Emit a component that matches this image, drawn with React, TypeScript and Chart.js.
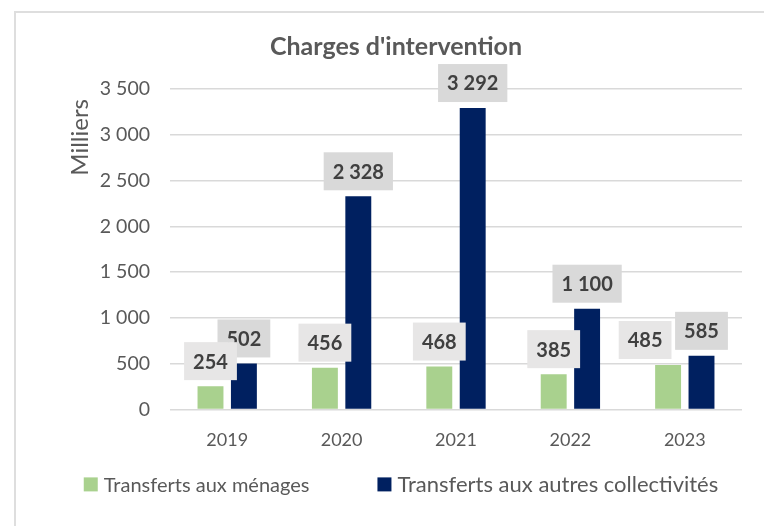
import React, { useEffect, useRef } from "react";
import { Chart, registerables } from "chart.js";

Chart.register(...registerables);

const categories = ["2019", "2020", "2021", "2022", "2023"];
const menages = [254, 456, 468, 385, 485];
const collectivites = [502, 2328, 3292, 1100, 585];
const seriesLabels = ["Transferts aux ménages", "Transferts aux autres collectivités"];
const seriesColors = ["#A9D18E", "#002060"];
const labelBackgrounds = ["#E7E6E6", "#D9D9D9"];
const legendFontSizes = [20, 22];
const yMin = 0;
const yMax = 3500;
const yStep = 500;
const chartTitle = "Charges d'intervention";
const yAxisTitle = "Milliers";

const FONT = "Lato, 'Open Sans', sans-serif";

// manual nudges of individual data labels (dataset, index, dx in px)
const labelNudges = [{ dataset: 0, index: 4, dx: -23 }];

function fmt(v: number): string {
  return String(v).replace(/\B(?=(\d{3})+(?!\d))/g, " ");
}

const valueLabelPlugin = {
  id: "valueLabels",
  afterDatasetsDraw(chart: any) {
    const ctx = chart.ctx;
    ctx.save();
    ctx.font = `bold 20px ${FONT}`;
    ctx.textAlign = "center";
    ctx.textBaseline = "middle";
    for (let d = chart.data.datasets.length - 1; d >= 0; d--) {
      const meta = chart.getDatasetMeta(d);
      const ds = chart.data.datasets[d];
      meta.data.forEach((el: any, i: number) => {
        const text = fmt(ds.data[i] as number);
        const w = ctx.measureText(text).width + 18;
        const h = 38;
        const nudge = labelNudges.find((n) => n.dataset === d && n.index === i);
        const cx = el.x + (nudge ? nudge.dx : 0);
        const bottom = el.y - 6;
        ctx.fillStyle = labelBackgrounds[d];
        ctx.fillRect(cx - w / 2, bottom - h, w, h);
        ctx.fillStyle = "#404040";
        ctx.fillText(text, cx, bottom - h / 2 + 1);
      });
    }
    ctx.restore();
  },
};

const axisTitlePlugin = {
  id: "yAxisTitle",
  afterDraw(chart: any) {
    const ctx = chart.ctx;
    ctx.save();
    ctx.font = `24px ${FONT}`;
    ctx.fillStyle = "#595959";
    ctx.translate(64, chart.chartArea.top + 10);
    ctx.rotate(-Math.PI / 2);
    ctx.textAlign = "right";
    ctx.textBaseline = "middle";
    ctx.fillText(yAxisTitle, 0, 0);
    ctx.restore();
  },
};

const legendPlugin = {
  id: "customLegend",
  afterDraw(chart: any) {
    const ctx = chart.ctx;
    ctx.save();
    const items = chart.data.datasets.map((ds: any, i: number) => {
      ctx.font = `${legendFontSizes[i]}px ${FONT}`;
      return {
        text: ds.label as string,
        color: ds.backgroundColor as string,
        size: legendFontSizes[i],
        w: ctx.measureText(ds.label).width,
      };
    });
    const box = 14;
    const gap = 6;
    const between = 68;
    const total =
      items.reduce((s: number, it: any) => s + box + gap + it.w, 0) + between * (items.length - 1);
    let x = chart.width / 2 + 3 - total / 2;
    const y = chart.chartArea.bottom + 75;
    items.forEach((it: any) => {
      ctx.fillStyle = it.color;
      ctx.fillRect(x, y - 7, box, box);
      ctx.font = `${it.size}px ${FONT}`;
      ctx.fillStyle = "#595959";
      ctx.textAlign = "left";
      ctx.textBaseline = "middle";
      ctx.fillText(it.text, x + box + gap, y + 1);
      x += box + gap + it.w + between;
    });
    ctx.restore();
  },
};

export default function App() {
  const ref = useRef<HTMLCanvasElement | null>(null);

  useEffect(() => {
    if (!ref.current) return;
    const chart = new Chart(ref.current, {
      type: "bar",
      data: {
        labels: categories,
        datasets: [
          {
            label: seriesLabels[0],
            data: menages,
            backgroundColor: seriesColors[0],
            categoryPercentage: 0.584,
            barPercentage: 0.776,
          },
          {
            label: seriesLabels[1],
            data: collectivites,
            backgroundColor: seriesColors[1],
            categoryPercentage: 0.584,
            barPercentage: 0.776,
          },
        ],
      },
      options: {
        responsive: false,
        animation: false,
        devicePixelRatio: 1,
        layout: { padding: { left: 34, right: 38, top: 0, bottom: 63 } },
        plugins: {
          legend: { display: false },
          tooltip: { enabled: false },
          title: {
            display: true,
            text: chartTitle,
            color: "#595959",
            font: { family: FONT, size: 25, weight: "bold" },
            padding: { top: 19, bottom: 27 },
          },
        },
        scales: {
          x: {
            grid: { display: false },
            border: { display: false },
            ticks: {
              color: "#595959",
              font: { family: FONT, size: 18 },
              padding: 12,
            },
          },
          y: {
            min: yMin,
            max: yMax,
            afterFit: (scale: any) => {
              scale.width = 120;
            },
            grid: { color: "#D9D9D9", lineWidth: 1.5, drawTicks: false },
            border: { display: false },
            ticks: {
              stepSize: yStep,
              color: "#595959",
              font: { family: FONT, size: 19.5 },
              padding: 20,
              callback: (v: any) => fmt(Number(v)),
            },
          },
        },
      },
      plugins: [valueLabelPlugin, axisTitlePlugin, legendPlugin],
    });
    return () => chart.destroy();
  }, []);

  return (
    <div
      style={{
        position: "fixed",
        left: 0,
        top: 0,
        width: 764,
        height: 526,
        overflow: "hidden",
        background: "#ffffff",
      }}
    >
      <div
        style={{
          position: "absolute",
          left: 14,
          top: 11,
          width: 764,
          height: 530,
          border: "2px solid #DEDEDE",
          background: "#ffffff",
        }}
      >
        <canvas ref={ref} width={764} height={513} style={{ display: "block" }} />
      </div>
    </div>
  );
}
